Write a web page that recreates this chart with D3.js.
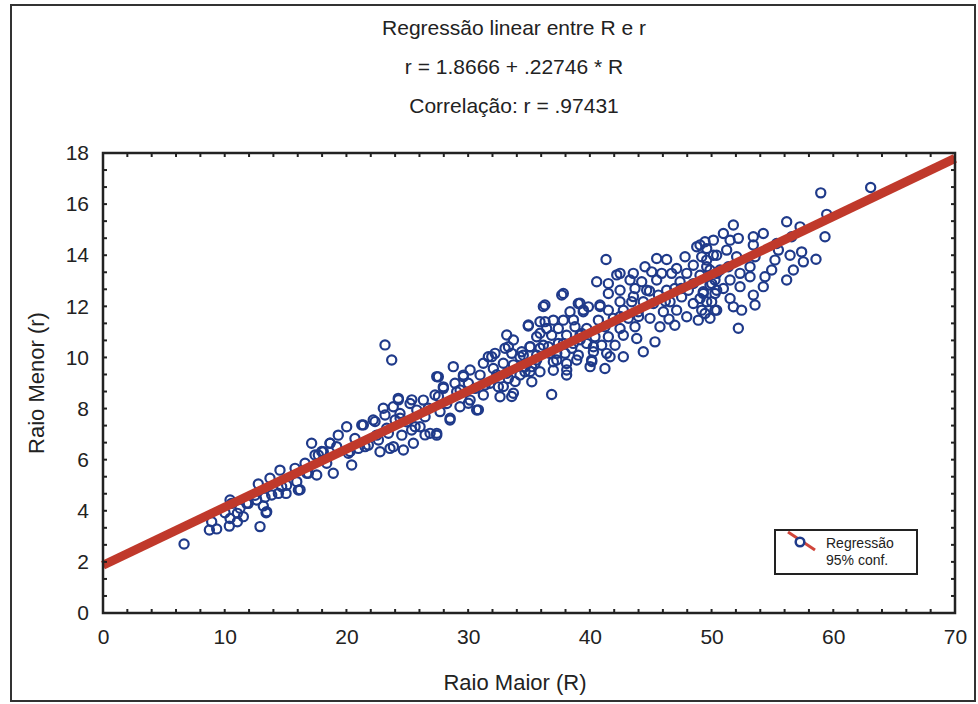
<!DOCTYPE html>
<html>
<head>
<meta charset="utf-8">
<script src="https://cdn.jsdelivr.net/npm/d3@7"></script>
<style>
  body { margin: 0; background: #fff; }
  text { font-family: "Liberation Sans", Arial, sans-serif; fill: #222; }
</style>
</head>
<body>
<div id="chart"></div>
<script>
// Title lines and axis labels
const titleLines = ["Regressão linear entre R e r", "r = 1.8666 + .22746 * R", "Correlação: r = .97431"];
const xLabel = "Raio Maior (R)";
const yLabel = "Raio Menor (r)";
const legendLines = ["Regressão", "95% conf."];

// Regression coefficients
const intercept = 1.8666;
const slope = 0.22746;

// Tick values
const xTicks = [0, 10, 20, 30, 40, 50, 60, 70];
const yTicks = [0, 2, 4, 6, 8, 10, 12, 14, 16, 18];

const pontos = [
  [6.66,2.70],[8.74,3.25],[9.34,3.29],[8.93,3.57],[10.38,3.40],[10.44,3.70],[11.04,3.57],[11.53,3.77],
  [11.04,3.90],[10.02,3.92],[10.57,4.29],[11.26,4.10],[10.44,4.42],[11.94,4.29],[12.9,3.38],[13.4,3.92],
  [13.17,4.19],[12.63,4.42],[13.31,4.53],[12.76,5.05],[13.72,5.27],[13.86,4.62],[14.41,4.68],[15.04,4.68],
  [14.54,5.59],[15.09,5.0],[15.78,5.66],[15.92,5.14],[16.05,4.81],[16.6,5.86],[16.74,5.47],[17.14,6.64],
  [17.42,6.18],[17.56,5.40],[18.1,6.31],[18.38,5.86],[18.92,5.47],[18.65,6.64],[19.33,6.96],[19.2,6.51],
  [20.02,7.29],[20.16,6.25],[20.43,5.79],[20.7,6.83],
  [20.98,6.44],[21.39,7.36],[21.8,6.57],[22.2,7.55],[22.49,6.96],[22.76,6.31],[23.03,8.01],[23.17,7.75],
  [23.31,7.23],[23.58,6.44],[23.85,8.07],[24.26,8.40],[24.0,7.55],[24.4,7.81],[24.55,6.96],[24.68,6.38],
  [24.95,7.48],[25.23,8.20],[25.36,7.16],[25.5,6.64],[25.78,7.94],[26.05,7.29],[26.32,8.33],[26.46,7.68],
  [26.73,8.01],[26.87,7.03],[27.28,8.53],[27.42,6.96],[27.55,9.24],[27.69,7.88],[27.96,8.85],[28.24,8.20],
  [28.51,7.55],[28.78,9.64],[28.92,8.99],[29.06,8.66],[29.33,8.07],[29.61,9.31],[30.02,8.99],[30.16,9.51],
  [30.16,8.33],[30.7,7.94],[30.57,8.79],[30.98,9.31],[31.25,9.77],[31.25,8.53],[31.66,10.03],[31.8,8.99],
  [32.07,9.57],[32.21,10.16],[32.48,8.85],[32.62,8.46],[32.89,9.77],[33.03,10.36],[33.17,10.88],[33.3,9.18],
  [33.58,10.16],[33.72,10.68],[33.72,8.60],[34.26,9.31],[34.4,10.22],[34.68,9.64],[34.95,11.27],[35.09,10.42],
  [35.23,9.05],[35.63,9.90],[23.17,10.49],[23.72,9.90],
  [48.78,14.33],[49.6,14.26],[41.33,13.83],[45.49,13.87],[46.31,13.83],[47.82,13.94],[49.19,13.94],[50.15,14.0],
  [44.53,13.55],[47.13,13.48],[48.5,13.61],[49.6,13.55],[42.48,13.29],[43.57,13.29],[45.08,13.35],[45.9,13.29],
  [46.72,13.29],[47.96,13.29],[49.05,13.22],[50.42,13.29],[40.56,12.96],[41.52,12.89],[43.3,13.03],[44.26,12.96],
  [45.49,13.03],[47.41,12.96],[48.5,12.89],[50.01,12.89],[42.48,12.63],[43.71,12.7],[44.67,12.63],[46.31,12.63],
  [46.98,12.7],[48.09,12.63],[49.32,12.57],[50.42,12.63],[37.82,12.5],[41.52,12.5],[45.63,12.44],[47.54,12.37],
  [49.05,12.31],[36.31,12.05],[39.05,12.11],[39.88,11.98],[40.83,12.05],[42.48,12.18],[43.44,12.18],[44.39,12.18],
  [45.22,12.11],[46.59,12.18],[48.5,12.11],[50.01,12.18],[38.37,11.79],[39.46,11.79],[41.52,11.85],[42.75,11.85],
  [43.98,11.79],[46.04,11.79],[47.13,11.85],[49.19,11.85],[50.42,11.85],[37.0,11.46],[35.9,11.4],[37.82,11.46],
  [40.7,11.46],[41.93,11.53],[43.16,11.53],[44.94,11.53],[47.96,11.59],[48.91,11.46],[49.87,11.53],[34.94,11.23],
  [36.45,11.13],[37.41,11.13],[38.78,11.2],[39.74,11.13],[41.24,11.2],[42.48,11.13],[43.71,11.2],[45.76,11.2],
  [46.98,11.26],[35.63,10.81],[36.86,10.87],[38.09,10.87],[39.19,10.87],[40.42,10.81],[41.52,10.81],[42.75,10.87],
  [43.85,10.74],[45.35,10.61],[35.08,10.42],[36.18,10.48],[37.41,10.55],[38.64,10.55],[39.74,10.55],[40.97,10.48],
  [42.07,10.48],[42.75,10.03],[44.39,10.22],[34.53,10.09],[35.63,10.09],[36.73,10.16],[37.96,10.16],[39.05,10.09],
  [40.29,10.22],[41.38,10.16],[35.49,9.76],[37.0,9.83],[38.09,9.76],[40.15,9.9],[41.24,9.57],[34.67,9.44],
  [35.9,9.44],[37.0,9.5],[38.09,9.31],[36.86,8.55],
  [63.07,16.65],[58.97,16.44],[59.46,15.6],[59.32,14.72],[58.58,13.84],[57.27,15.11],[56.58,14.72],[56.17,15.31],
  [57.4,14.13],[57.54,13.74],[56.72,13.42],[56.17,13.03],[56.45,14.0],[55.49,14.2],[55.21,13.81],[54.94,13.42],
  [54.39,13.16],[54.25,12.77],[54.25,14.85],[53.43,14.72],[53.43,14.4],[53.57,13.94],[53.16,13.55],[53.16,13.16],
  [53.43,12.44],[53.57,12.05],[52.47,11.85],[52.2,11.14],[51.79,15.18],[52.2,14.66],[51.52,14.59],[50.97,14.85],
  [50.15,14.59],[49.46,14.53],[51.24,14.2],[52.06,13.94],[50.42,14.0],[49.6,13.81],[51.38,13.55],[52.34,13.29],
  [50.69,13.42],[49.87,13.42],[51.52,13.03],[50.28,13.03],[52.34,12.77],[50.97,12.7],[49.87,12.83],[49.32,12.5],
  [50.28,12.5],[51.52,12.31],[49.6,12.18],[51.79,11.98],[50.28,11.85],[49.46,11.72],[55.35,14.46],[49.05,14.4],
  // second pass over the denser parts of the band
  [16.19,4.82],[16.87,5.47],[17.97,6.32],[18.66,6.64],[20.3,6.32],[21.26,7.36],[21.53,6.51],[22.35,7.49],
  [22.63,6.77],[23.45,7.03],[23.86,6.51],[24.27,8.34],[24.41,7.62],[25.37,8.34],[25.64,7.29],[26.46,6.97],
  [27.42,9.25],[27.56,8.47],[27.42,7.03],[27.97,8.79],[28.52,7.62],[29.34,8.73],[29.61,9.25],[30.02,8.21],
  [30.84,7.95],[31.39,8.92],[31.94,10.03],[32.35,9.32],[33.31,10.42],[33.72,9.71],[33.86,9.06],[33.58,8.47],
  [35.09,9.45],[35.91,10.95],[36.6,10.42],[37.28,9.9],[37.83,10.55],[38.1,9.51],[38.65,11.47],[39.2,10.69],
  [39.47,11.86],[40.16,9.84],[12.49,4.61],[11.8,4.29],[13.45,3.96],[14.68,4.94],[17.69,6.18],[36.18,11.99],
  [37.69,12.44],[36.32,11.4],[39.19,12.12],[39.33,10.94],[40.29,10.42],[40.84,11.99],[42.21,13.23],[42.48,11.6],
  [43.58,12.38],[41.66,10.03],[37.28,10.16],[35.91,10.36],[35.22,9.64],[34.26,10.03],[33.17,9.38],[32.89,8.86],
  [38.92,9.9],[40.02,9.64],[38.51,10.36],[44.9,12.6],[46.2,12.2],[47.5,12.7],[44.0,11.6],[46.5,11.5]
];

const width = 978, height = 704;
const plot = { left: 103, right: 955, top: 153, bottom: 613 };

const svg = d3.select("#chart").append("svg")
  .attr("width", width)
  .attr("height", height);

// Outer frame
svg.append("rect")
  .attr("x", 11).attr("y", 5)
  .attr("width", 964).attr("height", 696)
  .attr("fill", "none").attr("stroke", "#333").attr("stroke-width", 2);

// Scales
const x = d3.scaleLinear().domain([0, 70]).range([plot.left, plot.right]);
const y = d3.scaleLinear().domain([0, 18]).range([plot.bottom, plot.top]);

// Title
svg.append("g").selectAll("text")
  .data(titleLines)
  .join("text")
  .attr("x", 514)
  .attr("y", (d, i) => 35 + i * 39)
  .attr("text-anchor", "middle")
  .style("font-size", "21px")
  .text(d => d);

// Scatter points
svg.append("g").selectAll("circle")
  .data(pontos)
  .join("circle")
  .attr("cx", d => x(d[0]))
  .attr("cy", d => y(d[1]))
  .attr("r", 4.6)
  .attr("fill", "none")
  .attr("stroke", "#1f3a8a")
  .attr("stroke-width", 2.2);

// Regression line
const line = d3.line().x(d => x(d)).y(d => y(intercept + slope * d));
svg.append("path")
  .attr("d", line([0, 70]))
  .attr("stroke", "#c0392b")
  .attr("stroke-width", 9)
  .attr("fill", "none");

// Minor ticks (inward on all four sides)
const xMinor = d3.range(0, 70.01, 2);
const yMinor = d3.range(0, 27.01, 1).map(i => i * 2 / 3);
const tickLen = 4;
const ticks = svg.append("g").attr("stroke", "#222").attr("stroke-width", 2);
ticks.selectAll(".tb").data(xMinor).join("line")
  .attr("x1", d => x(d)).attr("x2", d => x(d))
  .attr("y1", plot.bottom).attr("y2", plot.bottom - tickLen);
ticks.selectAll(".tt").data(xMinor).join("line")
  .attr("x1", d => x(d)).attr("x2", d => x(d))
  .attr("y1", plot.top).attr("y2", plot.top + tickLen);
ticks.selectAll(".tl").data(yMinor).join("line")
  .attr("y1", d => y(d)).attr("y2", d => y(d))
  .attr("x1", plot.left).attr("x2", plot.left + tickLen);
ticks.selectAll(".tr").data(yMinor).join("line")
  .attr("y1", d => y(d)).attr("y2", d => y(d))
  .attr("x1", plot.right).attr("x2", plot.right - tickLen);

// Plot box
svg.append("rect")
  .attr("x", plot.left).attr("y", plot.top)
  .attr("width", plot.right - plot.left).attr("height", plot.bottom - plot.top)
  .attr("fill", "none").attr("stroke", "#222").attr("stroke-width", 2.5);

// Axes labels via d3 axes (lines hidden)
const xAxis = svg.append("g")
  .attr("transform", `translate(0,${plot.bottom})`)
  .call(d3.axisBottom(x).tickValues(xTicks).tickSize(0).tickPadding(16).tickFormat(d3.format("d")));
const yAxis = svg.append("g")
  .attr("transform", `translate(${plot.left},0)`)
  .call(d3.axisLeft(y).tickValues(yTicks).tickSize(0).tickPadding(14).tickFormat(d3.format("d")));
[xAxis, yAxis].forEach(g => {
  g.select(".domain").remove();
  g.selectAll("text")
    .style("font-size", "21px")
    .style("font-family", "'Liberation Sans', Arial, sans-serif")
    .attr("fill", "#222");
});

// Axis titles
svg.append("text")
  .attr("x", 515).attr("y", 690)
  .attr("text-anchor", "middle")
  .style("font-size", "22px")
  .text(xLabel);
svg.append("text")
  .attr("transform", `translate(44,${(plot.top + plot.bottom) / 2}) rotate(-90)`)
  .attr("text-anchor", "middle")
  .style("font-size", "22px")
  .text(yLabel);

// Legend
const legend = svg.append("g");
legend.append("rect")
  .attr("x", 775).attr("y", 530)
  .attr("width", 142).attr("height", 44)
  .attr("fill", "#fff").attr("stroke", "#222").attr("stroke-width", 2);
legend.append("line")
  .attr("x1", 788).attr("y1", 532).attr("x2", 815).attr("y2", 550)
  .attr("stroke", "#d0453a").attr("stroke-width", 3);
legend.append("circle")
  .attr("cx", 800).attr("cy", 542).attr("r", 4.3)
  .attr("fill", "#fff").attr("stroke", "#1f3a8a").attr("stroke-width", 2.5);
legend.selectAll(".lt").data(legendLines).join("text")
  .attr("x", 826)
  .attr("y", (d, i) => 548 + i * 17)
  .style("font-size", "14px")
  .text(d => d);
</script>
</body>
</html>
